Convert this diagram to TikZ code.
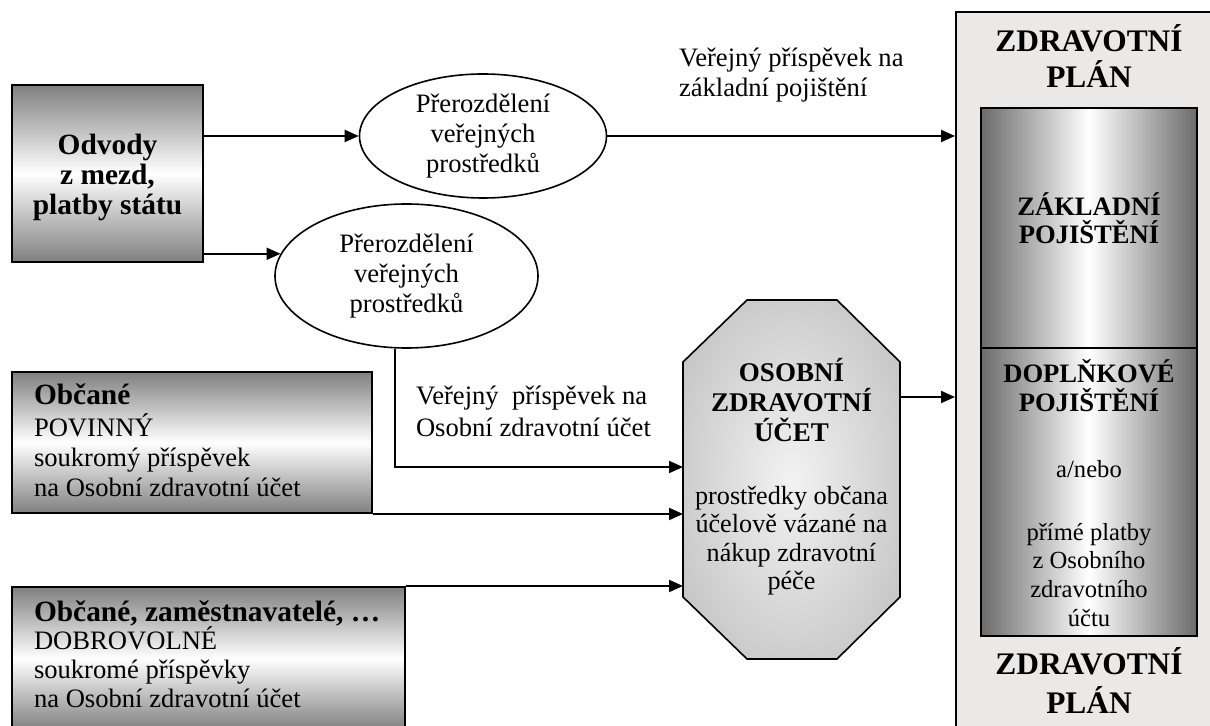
\documentclass[tikz,border=0pt]{standalone}
\usepackage{fontspec}
\setmainfont{Liberation Serif}
\usetikzlibrary{shapes,arrows.meta}

\definecolor{boxgray}{gray}{0.5}
\definecolor{innergray}{gray}{0.42}
\definecolor{marble}{RGB}{234,233,231}
\definecolor{octin}{gray}{0.95}
\definecolor{octout}{gray}{0.66}
\pgfdeclareradialshading{octshade}{\pgfpoint{0bp}{0bp}}{color(0bp)=(octin); color(50bp)=(octout)}
\newcommand{\ozbf}[1]{{\bfseries\fontsize{13.5}{15}\selectfont #1}}

\begin{document}
\begin{tikzpicture}[x=0.5pt,y=0.5pt,line width=1pt,>={Triangle[length=7pt,width=6pt]},
  shadebox/.style={draw,line width=1pt,inner sep=0pt,top color=boxgray,bottom color=boxgray,middle color=white},
  pojbox/.style={draw,line width=1pt,inner sep=0pt,left color=innergray,right color=innergray,middle color=white},
  oval/.style={ellipse,draw,line width=0.8pt,inner sep=0pt,align=center,font=\fontsize{13.3}{15}\selectfont},
  popis/.style={inner sep=0pt,align=left,anchor=base west,font=\fontsize{13.3}{15}\selectfont},
  nadpis/.style={inner sep=0pt,align=center,anchor=base,font=\fontsize{15.7}{18}\selectfont\bfseries}]
\useasboundingbox (0,0) rectangle (1210,-726);

% zdravotni plan
\node[draw,fill=marble,inner sep=0pt,minimum width=132pt,minimum height=364pt] (plan) at (1088,-376) {};
\node[pojbox,minimum width=108pt,minimum height=120pt] (zak) at (1089,-228) {};
\node[pojbox,minimum width=108pt,minimum height=144pt] (dop) at (1089,-492) {};
\node[nadpis] (zp1) at (1089,-88) {ZDRAVOTNÍ\\PLÁN};
\node[nadpis,font=\fontsize{15.7}{19.5}\selectfont\bfseries] (zp2) at (1089,-713) {ZDRAVOTNÍ\\PLÁN};
\node[nadpis,font=\fontsize{13.3}{14}\selectfont\bfseries] (zakt) at (1089,-244) {ZÁKLADNÍ\\POJIŠTĚNÍ};
\node[nadpis,font=\fontsize{13.3}{14.5}\selectfont\bfseries] (dopt) at (1089,-412) {DOPLŇKOVÉ\\POJIŠTĚNÍ};
\node[nadpis,font=\fontsize{12.3}{14.3}\selectfont] (anebo) at (1089,-478) {a/nebo};
\node[nadpis,font=\fontsize{12.3}{14.3}\selectfont] (prime) at (1089,-626) {přímé platby\\z Osobního\\zdravotního\\účtu};

% zdroje
\node[shadebox,minimum width=95.5pt,minimum height=88.5pt] (odv) at (107.5,-173.5) {};
\node[nadpis,font=\fontsize{14.7}{15}\selectfont\bfseries] (odvt) at (107.5,-215) {Odvody\\z mezd,\\platby státu};
\node[shadebox,minimum width=180pt,minimum height=70.5pt] (obc) at (192,-442.5) {};
\node[popis] (obct) at (33,-497) {\textbf{\fontsize{14.7}{16}\selectfont Občané}\\[1pt]POVINNÝ\\soukromý příspěvek\\na Osobní zdravotní účet};
\node[shadebox,minimum width=196.5pt,minimum height=71.5pt] (dob) at (208.5,-658.5) {};
\node[popis,font=\fontsize{13.3}{14.3}\selectfont] (dobt) at (33,-707) {\textbf{\fontsize{14.7}{16}\selectfont Občané, zaměstnavatelé, …}\\DOBROVOLNÉ\\soukromé příspěvky\\na Osobní zdravotní účet};

% prerozdeleni
\node[oval,minimum width=123.5pt,minimum height=62pt] (pr1) at (483,-136) {Přerozdělení\\veřejných\\prostředků};
\node[oval,minimum width=131.5pt,minimum height=72pt] (pr2) at (406.5,-276) {Přerozdělení\\veřejných\\prostředků};
\node[popis] (lz) at (678,-97) {Veřejný příspěvek na\\základní pojištění};
\node[popis,font=\fontsize{13.3}{16}\selectfont] (lo) at (415,-437) {Veřejný\ \ příspěvek na\\Osobní zdravotní účet};

% osobni zdravotni ucet
\shadedraw[shading=octshade,line width=0.8pt] (683,-362) -- (747,-300) -- (837,-300) -- (900,-362) -- (900,-597) -- (837,-659) -- (747,-659) -- (683,-597) -- cycle;
\node[inner sep=0pt,outer sep=0pt,minimum width=108.5pt,align=center,font=\fontsize{13.1}{14.2}\selectfont] (ozu) at (791.5,-477) {\ozbf{OSOBNÍ}\\[0.8pt]\ozbf{ZDRAVOTNÍ}\\[0.8pt]\ozbf{ÚČET}\\[17pt]prostředky občana\\účelově vázané na\\nákup zdravotní\\péče};

\coordinate (vA) at (0,-467);
\coordinate (vD) at (0,-397);

\draw[->] (odv.east |- pr1.west) -- (pr1.west);
\draw[->] (pr1.east) -- (plan.west |- pr1.east);
\draw[->] (odv.east |- pr2.170) -- (pr2.170);
\draw[->] (pr2.261) |- (ozu.west |- vA);
\draw[->] (obc.south east) -- (ozu.west |- obc.south east);
\draw[->] (dob.north east) -- (ozu.west |- dob.north east);
\draw[->] (ozu.east |- vD) -- (plan.west |- vD);
\end{tikzpicture}
\end{document}
